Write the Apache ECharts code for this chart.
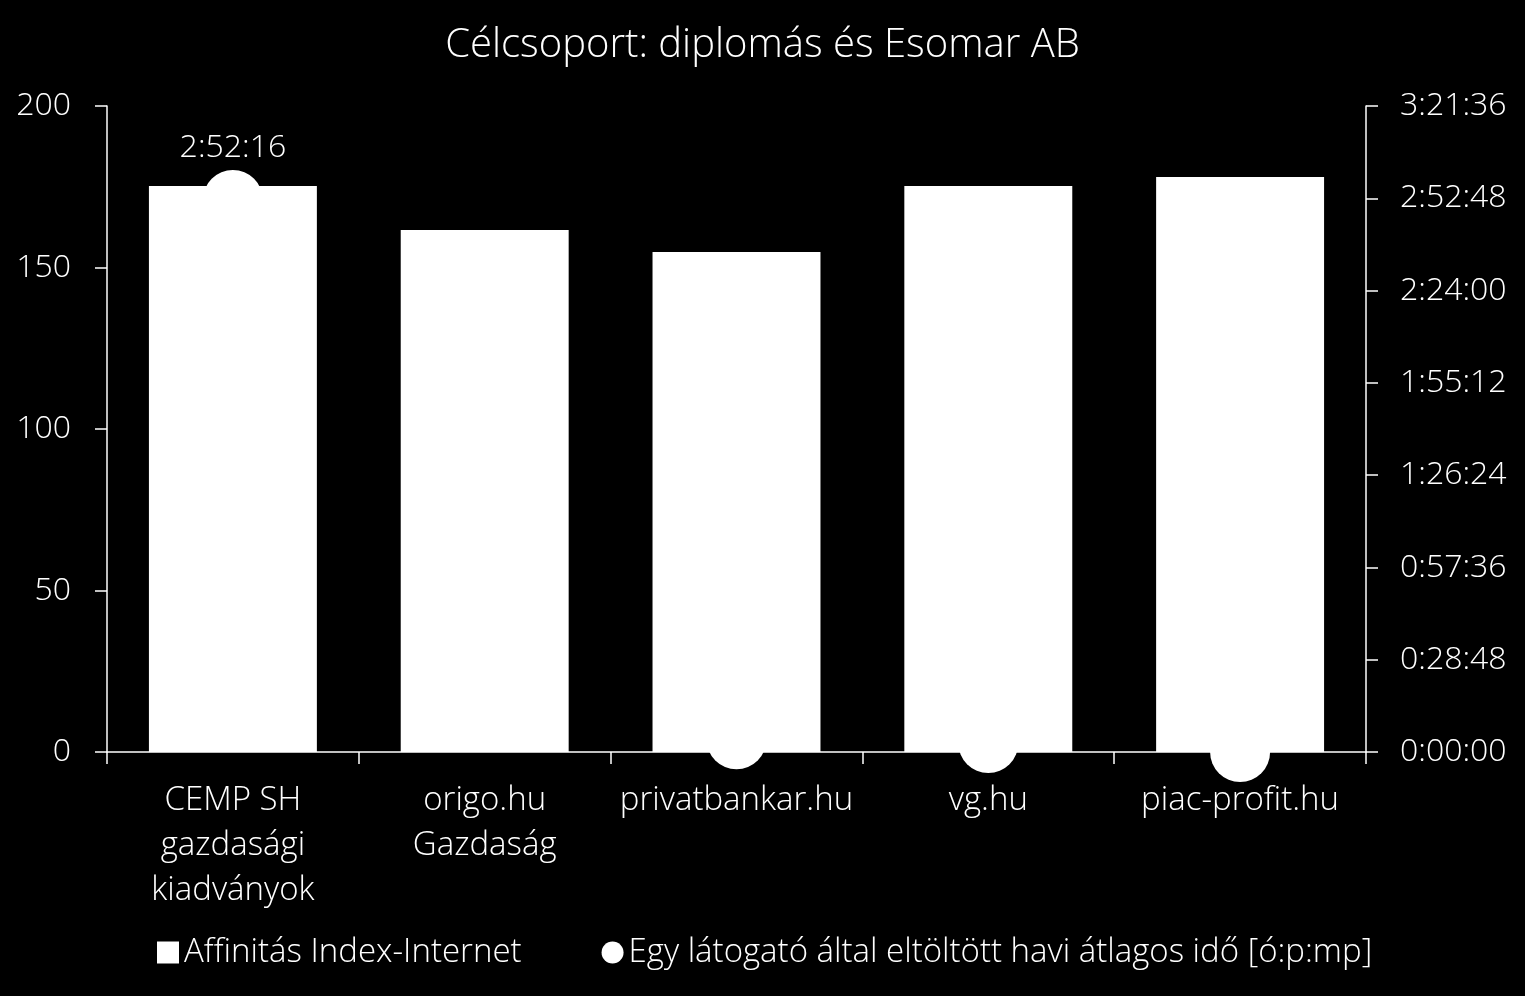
<!DOCTYPE html>
<html>
<head>
<meta charset="utf-8">
<script src="https://cdn.jsdelivr.net/npm/echarts@6/dist/echarts.min.js"></script>
<style>
  html, body { margin: 0; padding: 0; background: #000; }
  #chart { width: 1525px; height: 996px; }
</style>
</head>
<body>
<div id="chart"></div>
<script>
// adatok
const categories = ['CEMP SH\ngazdasági\nkiadványok', 'origo.hu\nGazdaság', 'privatbankar.hu', 'vg.hu', 'piac-profit.hu'];
const affinity = [175.2, 161.6, 154.8, 175.2, 178];
// másodpercben (ó:p:mp)
const avgTime = [10336, null, 240, 170, 0];
const leftTicks = [0, 50, 100, 150, 200];
const rightMax = 12096; // 3:21:36
const rightStep = 1728; // 0:28:48

function toHMS(sec) {
  const h = Math.floor(sec / 3600);
  const m = Math.floor((sec % 3600) / 60);
  const s = Math.round(sec % 60);
  return h + ':' + String(m).padStart(2, '0') + ':' + String(s).padStart(2, '0');
}

const font = '"Open Sans", sans-serif';
const white = '#ffffff';
const txt = { color: white, fontFamily: font, fontWeight: 300 };

const chart = echarts.init(document.getElementById('chart'));

const axisCommon = {
  axisLine: { show: true, lineStyle: { color: white, width: 1.5 } },
  axisTick: { show: true, length: 12, lineStyle: { color: white, width: 1.5 } },
  splitLine: { show: false },
  axisLabel: { ...txt, fontSize: 32, margin: 36 }
};

const option = {
  backgroundColor: '#000',
  animation: false,
  title: {
    text: 'Célcsoport: diplomás és Esomar AB',
    left: 'center',
    top: 21,
    textStyle: { ...txt, fontSize: 40 }
  },
  grid: { left: 107, right: 159, top: 106, bottom: 244 },
  legend: {
    bottom: 22,
    left: 152,
    itemGap: 80,
    itemWidth: 22,
    itemHeight: 22,
    itemStyle: { opacity: 1 },
    textStyle: { ...txt, fontSize: 33 },
    data: [
      { name: 'Affinitás Index-Internet', icon: 'rect' },
      { name: 'Egy látogató által eltöltött havi átlagos idő [ó:p:mp]', icon: 'circle' }
    ]
  },
  xAxis: {
    type: 'category',
    data: categories,
    ...axisCommon,
    axisLabel: { ...txt, fontSize: 33, margin: 26, lineHeight: 45, interval: 0 }
  },
  yAxis: [
    {
      type: 'value',
      min: leftTicks[0],
      max: leftTicks[leftTicks.length - 1],
      interval: 50,
      ...axisCommon
    },
    {
      type: 'value',
      min: 0,
      max: rightMax,
      interval: rightStep,
      position: 'right',
      ...axisCommon,
      axisLabel: { ...axisCommon.axisLabel, margin: 34, formatter: v => toHMS(v) }
    }
  ],
  series: [
    {
      name: 'Egy látogató által eltöltött havi átlagos idő [ó:p:mp]',
      type: 'scatter',
      yAxisIndex: 1,
      data: avgTime,
      symbol: 'circle',
      symbolSize: 60,
      clip: false,
      z: 1,
      itemStyle: { color: white, opacity: 1 },
      label: {
        show: true,
        position: 'top',
        distance: 6,
        ...txt,
        fontSize: 32,
        formatter: p => (p.value > 1000 ? toHMS(p.value) : '')
      }
    },
    {
      name: 'Affinitás Index-Internet',
      type: 'bar',
      data: affinity,
      barWidth: '66.7%',
      z: 2,
      itemStyle: { color: white }
    }
  ]
};

chart.setOption(option);
</script>
</body>
</html>
